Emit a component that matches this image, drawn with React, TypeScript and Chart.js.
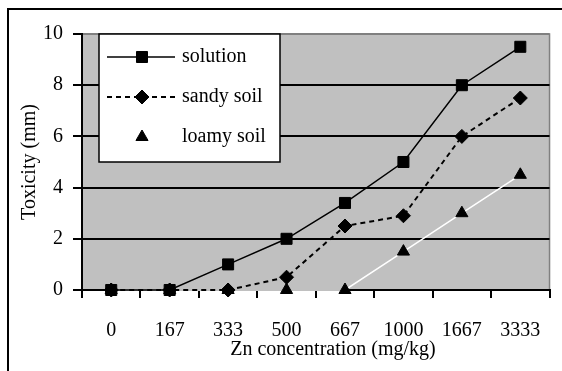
import React, { useEffect, useRef } from "react";
import { Chart, registerables } from "chart.js";

Chart.register(...registerables);

const categories = ["0", "167", "333", "500", "667", "1000", "1667", "3333"];
const solution = [0, 0, 1, 2, 3.4, 5, 8, 9.5];
const sandySoil = [0, 0, 0, 0.5, 2.5, 2.9, 6, 7.5];
const loamySoil = [0, 0, 0, 0, 0, 1.5, 3, 4.5];
const seriesNames = ["solution", "sandy soil", "loamy soil"];
const yMin = 0;
const yMax = 10;
const yStep = 2;
const xTitle = "Zn concentration (mg/kg)";
const yTitle = "Toxicity (mm)";

const FONT = '"Liberation Serif", "Times New Roman", serif';

function drawMarker(ctx: CanvasRenderingContext2D, style: string, x: number, y: number, r: number) {
  ctx.beginPath();
  if (style === "rect") {
    const s = Math.SQRT1_2 * r;
    ctx.rect(x - s, y - s, 2 * s, 2 * s);
  } else if (style === "rectRot") {
    ctx.moveTo(x, y - r);
    ctx.lineTo(x + r, y);
    ctx.lineTo(x, y + r);
    ctx.lineTo(x - r, y);
    ctx.closePath();
  } else if (style === "triangle") {
    const h = r * 1.5;
    const half = (r * 3) / Math.sqrt(3) / 2;
    ctx.moveTo(x, y - r);
    ctx.lineTo(x + half, y - r + h);
    ctx.lineTo(x - half, y - r + h);
    ctx.closePath();
  }
  ctx.fill();
  ctx.stroke();
}

const framePlugin = {
  id: "frameDecor",
  beforeDraw(chart: any) {
    const { ctx, chartArea: a } = chart;
    ctx.save();
    ctx.fillStyle = "#ffffff";
    ctx.fillRect(0, 0, chart.width, chart.height);
    ctx.fillStyle = "#c0c0c0";
    ctx.fillRect(a.left, a.top, a.right - a.left, a.bottom - a.top);
    ctx.strokeStyle = "#808080";
    ctx.lineWidth = 1.5;
    ctx.strokeRect(a.left, a.top, a.right - a.left, a.bottom - a.top);
    ctx.restore();
  },
  afterDraw(chart: any) {
    const { ctx, chartArea: a } = chart;
    ctx.save();
    ctx.strokeStyle = "#000";
    ctx.lineWidth = 2;
    ctx.strokeRect(8, 9, 800, 600);
    ctx.fillStyle = "#000";
    ctx.font = `20px ${FONT}`;
    ctx.textAlign = "center";
    ctx.textBaseline = "middle";
    ctx.fillText(xTitle, 333, 350);
    ctx.save();
    ctx.translate(30, (a.top + a.bottom) / 2);
    ctx.rotate(-Math.PI / 2);
    ctx.fillText(yTitle, 0, 0);
    ctx.restore();
    const lx = 99, ly = a.top, lw = 181, lh = 128;
    ctx.fillStyle = "#fff";
    ctx.fillRect(lx, ly, lw, lh);
    ctx.strokeStyle = "#000";
    ctx.lineWidth = 1.5;
    ctx.strokeRect(lx, ly, lw, lh);
    chart.data.datasets.forEach((ds: any, i: number) => {
      const y = ly + 23 + 40 * i;
      ctx.save();
      ctx.strokeStyle = ds.borderColor;
      ctx.lineWidth = ds.borderWidth;
      ctx.setLineDash(ds.borderDash || []);
      ctx.beginPath();
      ctx.moveTo(107, y);
      ctx.lineTo(175, y);
      ctx.stroke();
      ctx.setLineDash([]);
      ctx.fillStyle = ds.pointBackgroundColor;
      ctx.strokeStyle = ds.pointBorderColor;
      ctx.lineWidth = 1;
      drawMarker(ctx, ds.pointStyle, 142, y, ds.pointRadius);
      ctx.restore();
      ctx.fillStyle = "#000";
      ctx.font = `20px ${FONT}`;
      ctx.textAlign = "left";
      ctx.textBaseline = "middle";
      ctx.fillText(ds.label, 182, y);
    });
    ctx.restore();
  },
};

export default function App() {
  const ref = useRef<HTMLCanvasElement | null>(null);
  useEffect(() => {
    document.body.style.margin = "0";
    if (!ref.current) return;
    Chart.defaults.font.family = FONT;
    const chart = new Chart(ref.current, {
      type: "line",
      data: {
        labels: categories,
        datasets: [
          {
            label: seriesNames[0],
            data: solution,
            borderColor: "#000",
            backgroundColor: "#000",
            borderWidth: 1.5,
            pointStyle: "rect",
            pointRadius: 7.8,
            pointBackgroundColor: "#000",
            pointBorderColor: "#000",
            pointBorderWidth: 1,
            tension: 0,
            clip: 12,
          } as any,
          {
            label: seriesNames[1],
            data: sandySoil,
            borderColor: "#000",
            backgroundColor: "#000",
            borderWidth: 2,
            borderDash: [5, 4],
            pointStyle: "rectRot",
            pointRadius: 7,
            pointBackgroundColor: "#000",
            pointBorderColor: "#000",
            pointBorderWidth: 1,
            tension: 0,
            clip: 12,
          },
          {
            label: seriesNames[2],
            data: loamySoil,
            borderColor: "#ffffff",
            backgroundColor: "#000",
            borderWidth: 1.5,
            pointStyle: "triangle",
            pointRadius: 7,
            pointBackgroundColor: "#000",
            pointBorderColor: "#000",
            pointBorderWidth: 1,
            tension: 0,
            clip: 12,
          },
        ],
      },
      options: {
        animation: false,
        responsive: true,
        maintainAspectRatio: false,
        devicePixelRatio: 1,
        layout: { padding: { top: 34, right: 11, left: 0, bottom: 0 } },
        plugins: {
          legend: { display: false },
          tooltip: { enabled: false },
        },
        scales: {
          x: {
            type: "category",
            offset: true,
            grid: {
              offset: true,
              drawOnChartArea: false,
              drawTicks: true,
              tickLength: 8,
              color: "#000",
              lineWidth: 2,
            },
            border: { display: true, color: "#000", width: 2 },
            ticks: {
              color: "#000",
              font: { family: FONT, size: 20 },
              padding: 21,
              maxRotation: 0,
              autoSkip: false,
            },
            afterFit: (s: any) => {
              s.height = 81;
            },
          },
          y: {
            min: yMin,
            max: yMax,
            ticks: {
              stepSize: yStep,
              color: "#000",
              font: { family: FONT, size: 20 },
              padding: 10,
            },
            grid: {
              color: (c: any) => (c.tick && c.tick.value === yMax ? "#808080" : "#000"),
              tickColor: "#000",
              lineWidth: 2,
              tickLength: 9,
              drawTicks: true,
            },
            border: { display: true, color: "#000", width: 2 },
            afterFit: (s: any) => {
              s.width = 82;
            },
          },
        },
      },
      plugins: [framePlugin],
    });
    return () => chart.destroy();
  }, []);
  return (
    <div style={{ position: "absolute", left: 0, top: 0, width: 562, height: 371 }}>
      <canvas ref={ref} width={562} height={371} />
    </div>
  );
}
